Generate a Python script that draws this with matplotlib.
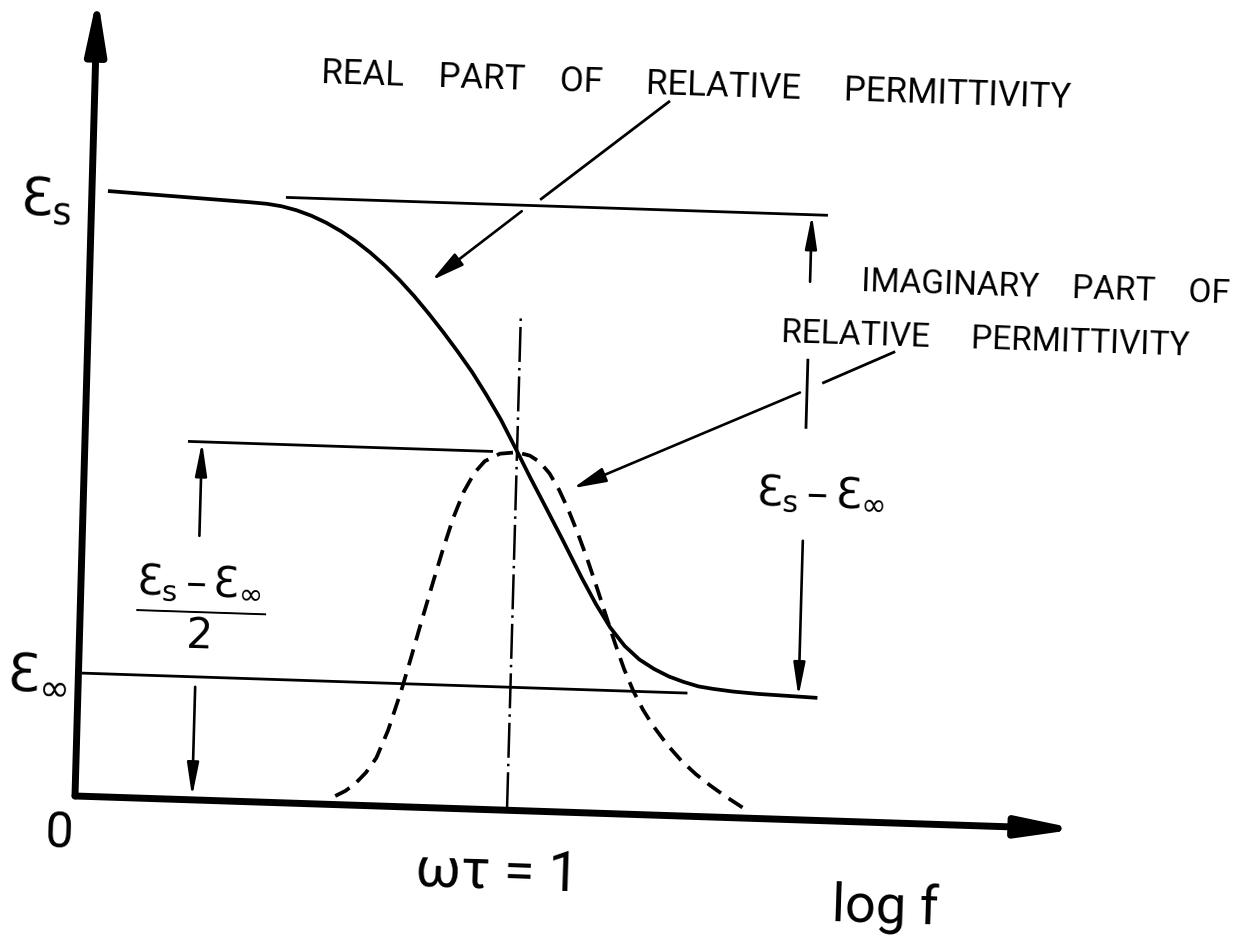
import matplotlib
matplotlib.use("Agg")
import matplotlib.pyplot as plt
from matplotlib.transforms import Affine2D

# permittivity levels and the omega*tau = 1 position (drawing units)
eps_s = 605
eps_inf = 123
peak = 358
wt1 = 432

# real part of the relative permittivity
real_logf = [16, 158, 175, 190, 205, 220, 235, 250, 265, 280, 295, 310, 325,
             340, 355, 370, 385, 400, 415, 432, 446, 460, 480, 500, 515, 530,
             545, 560, 575, 590, 605, 620, 635, 655, 680, 710, 739]
real_eps = [605.5, 599, 598, 596, 592.5, 587.5, 581, 573, 563.5, 552.5, 540,
            526, 510.5, 493.5, 475.5, 456.5, 436.5, 414, 390, 359, 333, 308,
            272, 235, 209, 186, 168, 155, 146, 139, 134, 130, 128, 126, 124.5,
            123.5, 122.5]

# imaginary part (loss peak)
imag_logf = [260, 270, 280, 290, 300, 311, 323, 331, 340, 350, 360, 370, 380,
             390, 400, 415, 432, 445, 455, 465, 475, 485, 495, 505, 515, 525,
             535, 545, 555, 565, 575, 590, 605, 620, 635, 650, 673]
imag_eps = [8.6, 14, 22, 33, 48, 76, 116, 146, 181, 219, 256, 290, 317, 336,
            348, 356, 358, 355, 349, 338, 322, 302, 279, 254, 227, 199, 171,
            145, 123, 105, 90, 71, 55, 42, 31, 21, 7]

plt.rcParams['mathtext.fontset'] = 'dejavusans'
LETTERS = ['Roboto', 'DejaVu Sans']

fig = plt.figure(figsize=(12.39, 9.37), dpi=100)
ax = fig.add_axes([0, 0, 1, 1])
ax.set_xlim(0, 1239)
ax.set_ylim(937, 0)
ax.axis('off')

# the sheet sits a little askew on the page
tr = Affine2D.from_values(1, 0.033, 0.028, -1, 75, 797) + ax.transData
tilt = -1.9


def arrow(p0, p1, lw=1.9, hl=20, hw=3.5):
    ax.annotate('', xy=p1, xytext=p0, xycoords=tr, textcoords=tr,
                arrowprops=dict(arrowstyle=f'-|>,head_length={hl},head_width={hw}',
                                lw=lw, color='k', shrinkA=0, shrinkB=0,
                                mutation_scale=1, joinstyle='round',
                                capstyle='round'))


def seg(x, y, lw=2.0, **kw):
    ax.plot(x, y, color='k', lw=lw, transform=tr, solid_capstyle='butt', **kw)


def label(u, v, s, size, ha='left', va='baseline'):
    ax.text(u, v, s, transform=tr, rotation=tilt, rotation_mode='anchor',
            ha=ha, va=va, fontsize=size, family=LETTERS)


# axes
arrow((0, 0), (1003, 0), lw=5, hl=34, hw=6)
arrow((0, 0), (0, 800), lw=5, hl=32, hw=6)

# reference levels
seg([194, 736], [eps_s, eps_s])
seg([3.5, 609], [eps_inf, eps_inf])
seg([103, 408], [peak, peak])
seg([wt1, wt1], [3, 493], lw=1.8, linestyle=(0, (14, 2.4, 1, 2.4)))

# curves
seg(real_logf, real_eps, lw=2.7)
ax.plot(imag_logf, imag_eps, color='k', lw=2.7, transform=tr,
        linestyle=(0, (4.4, 2.5)))

# eps_s - eps_inf dimension
arrow((720, 538), (720, eps_s))
seg([720, 720], [391, 461])
arrow((720, 279), (720, eps_inf))

# (eps_s - eps_inf)/2 dimension
arrow((117, 264), (117, peak))
arrow((117, 113), (117, 3))

# leaders
seg([575, 448], [714, 611])
arrow((430, 599), (342, 527), hw=4.5)
seg([807, 735], [471, 437])
arrow((713, 427), (489, 324), hw=4.5)

# lettering
label(226, 721, 'REAL    PART    OF     RELATIVE     PERMITTIVITY', 25)
label(771, 531, 'IMAGINARY    PART    OF', 24)
label(693, 478, 'RELATIVE     PERMITTIVITY', 24)
label(672, 314, r'$\mathrm{Ɛ}_\mathrm{s}\,–\,\mathrm{Ɛ}_\infty$', 31)
label(120, 194, r'$\dfrac{\mathrm{Ɛ}_\mathrm{s}\,–\,\mathrm{Ɛ}_\infty}{2}$', 30,
      ha='center', va='center')
label(-72, 580, r'$\mathrm{Ɛ}_\mathrm{s}$', 38)
label(-72, 107, r'$\mathrm{Ɛ}_\infty$', 38)
label(-15, -37, '0', 36, ha='center', va='center')
label(342, -77, 'ωτ = 1', 40)
label(759, -98, 'log f', 39)

fig.savefig('out.png', dpi=100)
